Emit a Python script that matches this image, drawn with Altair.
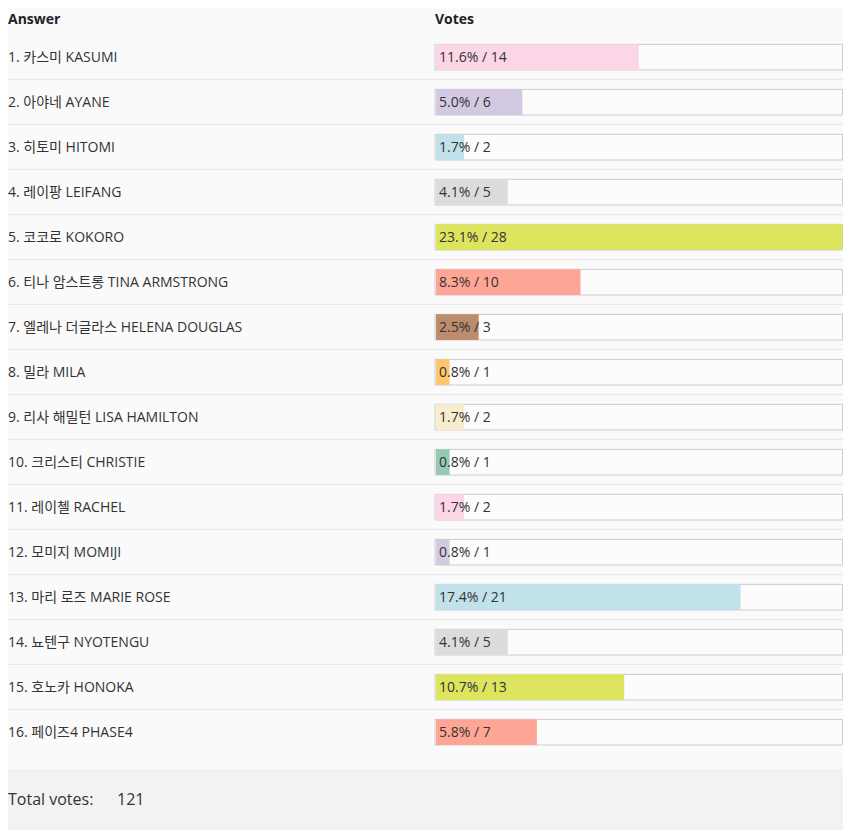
import altair as alt
import pandas as pd

names = ["1. 카스미 KASUMI", "2. 아야네 AYANE", "3. 히토미 HITOMI", "4. 레이팡 LEIFANG",
         "5. 코코로 KOKORO", "6. 티나 암스트롱 TINA ARMSTRONG", "7. 엘레나 더글라스 HELENA DOUGLAS",
         "8. 밀라 MILA", "9. 리사 해밀턴 LISA HAMILTON", "10. 크리스티 CHRISTIE",
         "11. 레이첼 RACHEL", "12. 모미지 MOMIJI", "13. 마리 로즈 MARIE ROSE",
         "14. 뇨텐구 NYOTENGU", "15. 호노카 HONOKA", "16. 페이즈4 PHASE4"]
votes = [14, 6, 2, 5, 28, 10, 3, 1, 2, 1, 2, 1, 21, 5, 13, 7]
pcts = ["11.6%", "5.0%", "1.7%", "4.1%", "23.1%", "8.3%", "2.5%", "0.8%",
        "1.7%", "0.8%", "1.7%", "0.8%", "17.4%", "4.1%", "10.7%", "5.8%"]
colors = ["#fcd5e7", "#d3c9e3", "#c1e2eb", "#dcdcdc", "#dde55f", "#ffa596", "#bc8c6c", "#ffc66e",
          "#f8eecf", "#95c9b3", "#fcd5e7", "#d3c9e3", "#c1e2eb", "#dcdcdc", "#dde55f", "#ffa596"]
total_votes = 121
max_votes = max(votes)

df = pd.DataFrame({
    "name": names,
    "votes": votes,
    "label": [f"{p} / {v}" for p, v in zip(pcts, votes)],
    "color": colors,
    "row": list(range(len(names))),
    "maxv": [max_votes] * len(names),
    "zero": [0] * len(names),
    "start": [0.07] * len(names),
})
df["top"] = df["row"] - 0.27
df["bot"] = df["row"] + 0.30
df["sep"] = df["row"] + 0.51
sep_df = df[df["row"] < len(names) - 1]

W, H = 835, 822
FONT = "Open Sans, Noto Sans CJK KR, sans-serif"
ROW_PX = 45.0
ROW0 = 48.5
y_scale = alt.Scale(domain=[-ROW0 / ROW_PX, (H - ROW0) / ROW_PX], reverse=True, nice=False, zero=False)
X0 = 427.0
XPX = (W - 0.5 - X0) / max_votes
x_scale = alt.Scale(domain=[-X0 / XPX, (W - X0) / XPX], nice=False, zero=False)
HDR_ROW = (11.5 - ROW0) / ROW_PX
FOOT_TOP = (761.0 - ROW0) / ROW_PX
FOOT_MID = (792.0 - ROW0) / ROW_PX
FOOT_BOT = (H - ROW0) / ROW_PX

base = alt.Chart(df)

seps = alt.Chart(sep_df).mark_rule(color="#e8e8e8", strokeWidth=1).encode(
    x=alt.value(0), x2=alt.value(W),
    y=alt.Y("sep:Q", scale=y_scale, axis=None),
)

boxes = base.mark_rect(fill="#fcfcfc", stroke="#cccccc", strokeWidth=1).encode(
    x=alt.X("zero:Q", scale=x_scale, axis=None),
    x2="maxv:Q",
    y=alt.Y("top:Q", scale=y_scale, axis=None),
    y2="bot:Q",
)

bars = base.mark_rect().encode(
    x=alt.X("start:Q", scale=x_scale, axis=None),
    x2="votes:Q",
    y=alt.Y("top:Q", scale=y_scale, axis=None),
    y2="bot:Q",
    fill=alt.Fill("color:N", scale=None),
)

bar_text = base.mark_text(align="left", baseline="middle", font=FONT, fontSize=14,
                          color="#333333", dx=4, dy=1.5).encode(
    x=alt.X("zero:Q", scale=x_scale, axis=None),
    y=alt.Y("row:Q", scale=y_scale, axis=None),
    text="label:N",
)

name_text = base.mark_text(align="left", baseline="middle", font=FONT, fontSize=14,
                           color="#333333", dy=1.5).encode(
    x=alt.value(0),
    y=alt.Y("row:Q", scale=y_scale, axis=None),
    text="name:N",
)

hdr_df = pd.DataFrame({"t": ["Votes"], "xv": [0.0], "yv": [HDR_ROW]})
header_votes = alt.Chart(hdr_df).mark_text(align="left", baseline="middle", font=FONT, fontSize=14,
                                            fontWeight="bold", color="#222222").encode(
    x=alt.X("xv:Q", scale=x_scale, axis=None),
    y=alt.Y("yv:Q", scale=y_scale, axis=None),
    text="t:N",
)
hdr2_df = pd.DataFrame({"t": ["Answer"], "yv": [HDR_ROW]})
header_answer = alt.Chart(hdr2_df).mark_text(align="left", baseline="middle", font=FONT, fontSize=14,
                                              fontWeight="bold", color="#222222").encode(
    x=alt.value(0),
    y=alt.Y("yv:Q", scale=y_scale, axis=None),
    text="t:N",
)

foot_df = pd.DataFrame({"y1": [FOOT_TOP], "y2": [FOOT_BOT]})
footer_band = alt.Chart(foot_df).mark_rect(fill="#f2f2f2").encode(
    x=alt.value(0), x2=alt.value(W),
    y=alt.Y("y1:Q", scale=y_scale, axis=None),
    y2="y2:Q",
)
foot_lbl = alt.Chart(pd.DataFrame({"t": ["Total votes:"], "yc": [FOOT_MID]})).mark_text(
    align="left", baseline="middle", font=FONT, fontSize=16, color="#333333").encode(
    x=alt.value(0),
    y=alt.Y("yc:Q", scale=y_scale, axis=None),
    text="t:N",
)
foot_val = alt.Chart(pd.DataFrame({"t": [str(total_votes)], "yc": [FOOT_MID]})).mark_text(
    align="left", baseline="middle", font=FONT, fontSize=16, color="#333333").encode(
    x=alt.value(109),
    y=alt.Y("yc:Q", scale=y_scale, axis=None),
    text="t:N",
)

chart = alt.layer(seps, footer_band, boxes, bars, bar_text, name_text,
                  header_votes, header_answer, foot_lbl, foot_val).properties(
    width=W, height=H, padding=0, background="#fafafa",
    autosize=alt.AutoSizeParams(type="none"),
).configure_view(stroke=None)

chart.save("out.html", embed_options={"renderer": "svg", "actions": False})
